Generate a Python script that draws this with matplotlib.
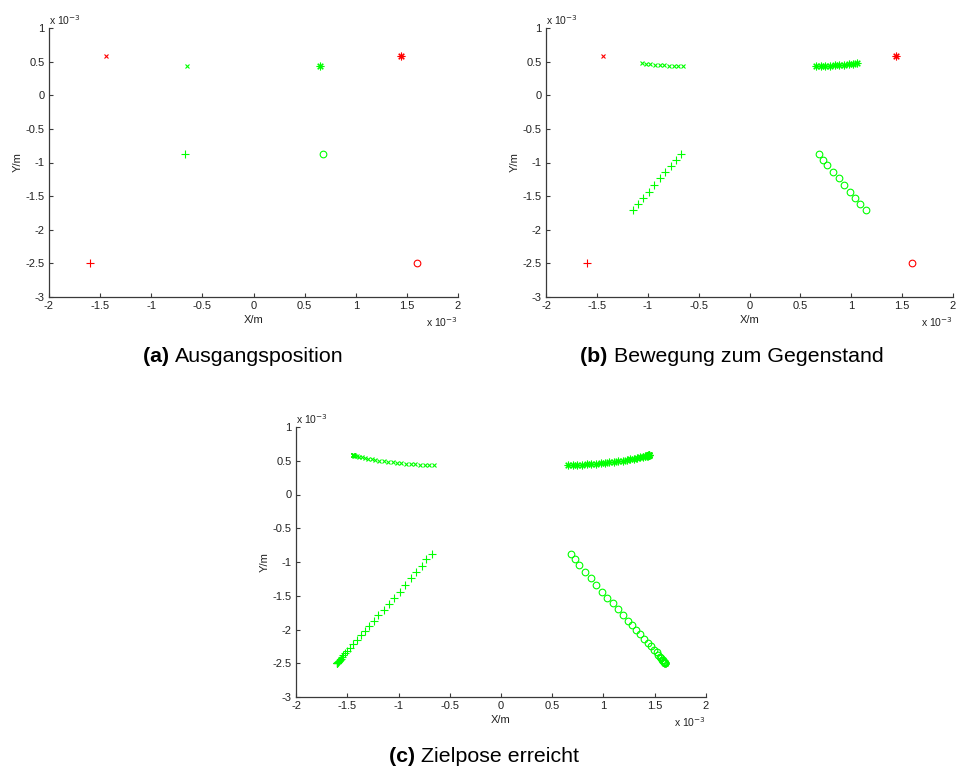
import matplotlib
matplotlib.use("Agg")
import matplotlib.pyplot as plt
import numpy as np

plt.rcParams['font.family'] = ['Liberation Sans', 'DejaVu Sans']

SCALE = 1e-3

# Target (red) positions, units of 1e-3 m
target_x = {'x': -1.44, '*': 1.44, '+': -1.60, 'o': 1.60}
target_y = {'x': 0.585, '*': 0.585, '+': -2.50, 'o': -2.50}

# Full trajectories (panel c); panel b shows the first 10 points, panel a the first
traj_plus_x = [-0.67, -0.727, -0.774, -0.829, -0.878, -0.937, -0.985, -1.044, -1.096, -1.144,
               -1.200, -1.242, -1.288, -1.327, -1.366, -1.405, -1.444, -1.473, -1.505, -1.525,
               -1.540, -1.555, -1.565, -1.573, -1.580, -1.585, -1.589, -1.592, -1.594, -1.596,
               -1.597, -1.598, -1.599]
traj_plus_y = [-0.88, -0.960, -1.055, -1.148, -1.237, -1.341, -1.440, -1.533, -1.622, -1.711,
               -1.785, -1.874, -1.948, -2.018, -2.081, -2.156, -2.215, -2.274, -2.319, -2.355,
               -2.385, -2.410, -2.430, -2.447, -2.460, -2.470, -2.478, -2.484, -2.488, -2.492,
               -2.494, -2.496, -2.498]

traj_o_x = [0.68, 0.722, 0.764, 0.817, 0.875, 0.927, 0.985, 1.034, 1.089, 1.141,
            1.190, 1.236, 1.278, 1.320, 1.356, 1.394, 1.430, 1.465, 1.495, 1.518,
            1.535, 1.550, 1.562, 1.571, 1.578, 1.584, 1.588, 1.591, 1.594, 1.596,
            1.597, 1.598, 1.599]
traj_o_y = [-0.88, -0.956, -1.044, -1.144, -1.233, -1.341, -1.440, -1.529, -1.612, -1.700,
            -1.785, -1.870, -1.940, -2.010, -2.070, -2.135, -2.195, -2.250, -2.300, -2.340,
            -2.375, -2.405, -2.427, -2.445, -2.459, -2.469, -2.477, -2.483, -2.488, -2.492,
            -2.494, -2.496, -2.498]

traj_x_x = [-0.650, -0.700, -0.744, -0.790, -0.836, -0.878, -0.927, -0.973, -1.015, -1.057,
            -1.102, -1.144, -1.187, -1.226, -1.261, -1.295, -1.327, -1.359, -1.385, -1.405,
            -1.420, -1.430, -1.436, -1.440, -1.442, -1.443, -1.444]
traj_x_y = [0.435, 0.436, 0.438, 0.441, 0.445, 0.450, 0.455, 0.462, 0.468, 0.476,
            0.484, 0.493, 0.502, 0.511, 0.521, 0.531, 0.542, 0.553, 0.562, 0.568,
            0.573, 0.576, 0.579, 0.581, 0.583, 0.584, 0.585]

traj_s_x = [0.650, 0.700, 0.744, 0.790, 0.836, 0.878, 0.927, 0.973, 1.015, 1.057,
            1.102, 1.144, 1.187, 1.226, 1.261, 1.295, 1.327, 1.359, 1.385, 1.405,
            1.420, 1.430, 1.436, 1.440, 1.442, 1.443, 1.444]
traj_s_y = [0.435, 0.436, 0.438, 0.441, 0.445, 0.450, 0.455, 0.462, 0.468, 0.476,
            0.484, 0.493, 0.502, 0.511, 0.521, 0.531, 0.542, 0.553, 0.562, 0.568,
            0.573, 0.576, 0.579, 0.581, 0.583, 0.584, 0.585]

n_points = {'a': 1, 'b': 10, 'c': None}
captions = {'a': ('(a)', 'Ausgangsposition'),
            'b': ('(b)', 'Bewegung zum Gegenstand'),
            'c': ('(c)', 'Zielpose erreicht')}

xticks = [-2, -1.5, -1, -0.5, 0, 0.5, 1, 1.5, 2]
yticks = [-3, -2.5, -2, -1.5, -1, -0.5, 0, 0.5, 1]

W, H = 956, 769
fig = plt.figure(figsize=(W / 100, H / 100), dpi=100)

# axes rectangles in pixels: left, top, right, bottom
rects = {'a': (49, 28, 458, 297), 'b': (546, 28, 953, 297), 'c': (296, 427, 706, 697)}
cap_pos = {'a': (243, 357), 'b': (732, 357), 'c': (484, 757)}

GREEN = (0, 1, 0)
RED = (1, 0, 0)
AXC = '#3a3a3a'
TXC = '#222222'

ASTER = (8, 2, 0)
markers = [
    ('x', 'x', traj_x_x, traj_x_y, 3.4),
    ('*', ASTER, traj_s_x, traj_s_y, 5.5),
    ('+', '+', traj_plus_x, traj_plus_y, 5.5),
    ('o', 'o', traj_o_x, traj_o_y, 4.8),
]

for key in ['a', 'b', 'c']:
    l, t, r, b = rects[key]
    ax = fig.add_axes([l / W, 1 - b / H, (r - l) / W, (b - t) / H])
    n = n_points[key]
    for name, m, xs, ys, ms in markers:
        ax.plot(np.array([target_x[name]]) * SCALE, np.array([target_y[name]]) * SCALE,
                linestyle='none', marker=m, color=RED, markersize=ms,
                markeredgewidth=0.8, markerfacecolor='none' if name == 'o' else RED)
        xs_ = xs if n is None else xs[:n]
        ys_ = ys if n is None else ys[:n]
        ax.plot(np.array(xs_) * SCALE, np.array(ys_) * SCALE,
                linestyle='none', marker=m, color=GREEN, markersize=ms,
                markeredgewidth=0.8, markerfacecolor='none' if name == 'o' else GREEN)
    ax.set_xlim(-2e-3, 2e-3)
    ax.set_ylim(-3e-3, 1e-3)
    ax.set_xticks(np.array(xticks) * SCALE)
    ax.set_yticks(np.array(yticks) * SCALE)
    ax.set_xticklabels([f'{v:g}' for v in xticks])
    ax.set_yticklabels([f'{v:g}' for v in yticks])
    ax.tick_params(direction='in', length=3, width=0.8, colors=AXC,
                   labelsize=8, labelcolor=TXC, pad=3)
    for s in ['top', 'right']:
        ax.spines[s].set_visible(False)
    for s in ['left', 'bottom']:
        ax.spines[s].set_color(AXC)
        ax.spines[s].set_linewidth(0.9)
    ax.set_xlabel('X/m', fontsize=8, color=TXC, labelpad=3)
    ax.set_ylabel('Y/m', fontsize=8, color=TXC, labelpad=2)
    ax.text(0.0, 1.005, r'x 10$^{-3}$', transform=ax.transAxes, fontsize=7.5,
            color=TXC, ha='left', va='bottom')
    ax.text(1.0, -0.12, r'x 10$^{-3}$', transform=ax.transAxes, fontsize=7.5,
            color=TXC, ha='right', va='bottom')
    cx, cy = cap_pos[key]
    lab, txt = captions[key]
    t1 = fig.text(cx / W, 1 - cy / H, lab + ' ', fontsize=15.4, fontweight='bold',
                  ha='right', va='center', color='black')
    t2 = fig.text(cx / W, 1 - cy / H, txt, fontsize=15.4, ha='left', va='center', color='black')
    fig.canvas.draw()
    w1 = t1.get_window_extent().width
    w2 = t2.get_window_extent().width
    shift = (w1 - w2) / 2 / W
    t1.set_x(cx / W + shift)
    t2.set_x(cx / W + shift)

fig.savefig('out.png', dpi=100)
